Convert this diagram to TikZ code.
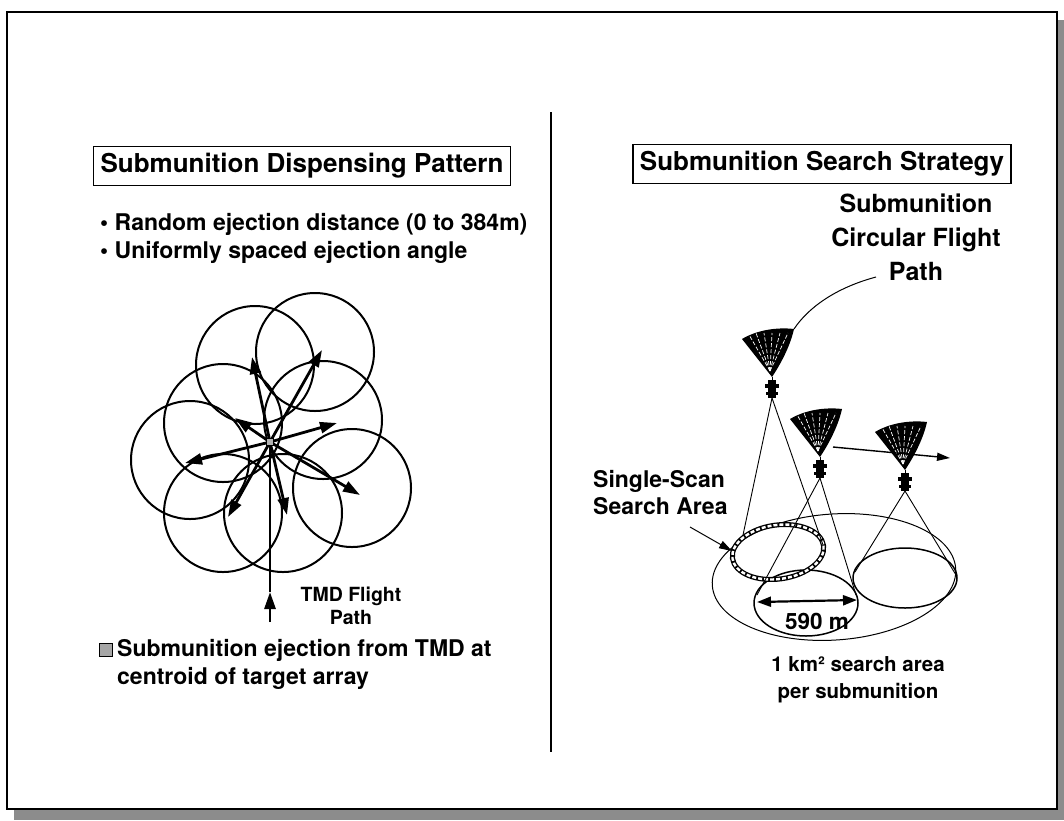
\documentclass[tikz,border=0pt]{standalone}
\usepackage{fontspec}
\setmainfont{TeX Gyre Heros}
\usetikzlibrary{arrows.meta,positioning}
\tikzset{
  titlebox/.style={draw, line width=1.6pt, inner xsep=7pt, inner ysep=7pt, font=\fontsize{26}{30}\selectfont\bfseries},
  txt/.style={inner sep=0pt, font=\fontsize{23}{28}\selectfont\bfseries},
  ejarrow/.style={line width=2.8pt, -{Triangle[length=17pt,width=11pt]}},
  ring/.style={line width=2pt},
  cone/.style={line width=0.9pt},
  tip/.style={-{Triangle[length=13pt,width=8pt]}},
}
\begin{document}
\begin{tikzpicture}[x=1pt, y=-1pt]
\useasboundingbox (0,0) rectangle (1064,820);
% frame with shadow
\fill[black!45] (14,809) rectangle (1064,820);
\fill[black!45] (1057,20) rectangle (1064,820);
\draw[line width=2.4pt, fill=white] (7,12) rectangle (1057,809);
\draw[line width=1.6pt] (551,112) -- (551,752);

% left panel
\node[titlebox] (dtitle) at (302,166) {Submunition Dispensing Pattern};
\node[txt, anchor=west] (b1) at (100,224) {• Random ejection distance (0 to 384m)};
\node[txt, anchor=west] (b2) at (100,252) {• Uniformly spaced ejection angle};

\foreach \cx/\cy in {255/365, 315/352, 323/420, 352/488, 223/423, 190/460, 223/513, 283/513}
  \draw[ring] (\cx,\cy) circle (59);

\coordinate (o) at (270,442);
\foreach \tx/\ty in {252/357, 322/350, 337/423, 360/495, 235/418, 185/463, 228/517, 287/515}
  \draw[ejarrow] (o) -- (\tx,\ty);
\coordinate (fp0) at (270,622);
\coordinate (fpa) at (270,592);
\draw[ejarrow] (fp0) -- (fpa);
\draw[line width=2.8pt] (fpa) -- (o);
\node[draw, fill=black!30, line width=0.6pt, minimum size=7pt, inner sep=0pt] (cen) at (o) {};
\node[align=center, inner sep=0pt, font=\fontsize{19.5}{23}\selectfont\bfseries] (tmd) at (351,606) {TMD Flight\\Path};

\node[draw, fill=black!35, line width=0.8pt, minimum size=13pt, inner sep=0pt] (sq) at (106,650) {};
\node[txt, anchor=west, align=left] (note) at (117,664) {Submunition ejection from TMD at\\centroid of target array};

% right panel
\node[titlebox] (stitle) at (822,164) {Submunition Search Strategy};
\node[txt, align=center, font=\fontsize{25}{34}\selectfont\bfseries] (flt) at (916,237) {Submunition\\Circular Flight\\Path};

\foreach \px/\py/\n in {772/377/1, 820/457/2, 905/470/3}{
  \begin{scope}[shift={(\px,\py)}]
    \fill (0,0) -- (-30,-38) .. controls (-15,-47) and (5,-50) .. (22,-48) .. controls (18,-30) and (8,-12) .. (0,0);
    \foreach \t in {-24,-16,-8,0,8,16}
      \draw[white, line width=0.7pt, dash pattern=on 4pt off 2pt] (-2,-6) -- (\t,-44);
    \draw[line width=1pt] (0,0) -- (0,3);
    \fill (-4,3) rectangle (4,21);
    \fill (-7,7) rectangle (7,11);
    \fill (-6,15) rectangle (6,18);
    \coordinate (p\n) at (0,21);
    \coordinate (c\n) at (22,-48);
  \end{scope}
}

\draw[line width=1pt] (834,577) ellipse[x radius=122, y radius=63, rotate=4];
\draw[line width=1.5pt] (806,603) ellipse[x radius=52, y radius=33];
\draw[line width=1.5pt] (905,578) ellipse[x radius=52, y radius=30];
\draw[line width=5pt, rotate around={8:(778,552)}] (778,552) ellipse[x radius=46, y radius=27];
\draw[white, line width=2.4pt, dash pattern=on 4pt off 2pt, rotate around={8:(778,552)}] (778,552) ellipse[x radius=46, y radius=27];

\draw[cone] (p1) -- (743,535);
\draw[cone] (p1) -- (823,545);
\draw[cone] (p2) -- (757,595);
\draw[cone] (p2) -- (856,595);
\draw[cone] (p3) -- (855,572);
\draw[cone] (p3) -- (956,575);

\coordinate (lead) at (876,277);
\draw[line width=1pt] (lead) .. controls (835,288) and (808,308) .. (c1);

\coordinate (arr0) at (833,447);
\coordinate (arr1) at (950,458);
\draw[line width=1.4pt, tip] (arr0) -- (arr1);

\node[txt, anchor=west, align=left, font=\fontsize{23}{27}\selectfont\bfseries] (ssa) at (593,493) {Single-Scan\\Search Area};
\coordinate (ss0) at (690,527);
\coordinate (ss1) at (732,551);
\draw[line width=1pt, tip] (ss0) -- (ss1);

\coordinate (m1) at (757,602);
\coordinate (m2) at (857,600);
\draw[line width=2.2pt, {Triangle[length=14pt,width=10pt]}-{Triangle[length=14pt,width=10pt]}] (m1) -- (m2);
\node[txt, font=\fontsize{22.5}{27}\selectfont\bfseries] (dist) at (817,621) {590 m};

\node[txt, align=center, font=\fontsize{20.5}{27}\selectfont\bfseries] (area) at (858,680) {1 km² search area\\per submunition};
\end{tikzpicture}
\end{document}
